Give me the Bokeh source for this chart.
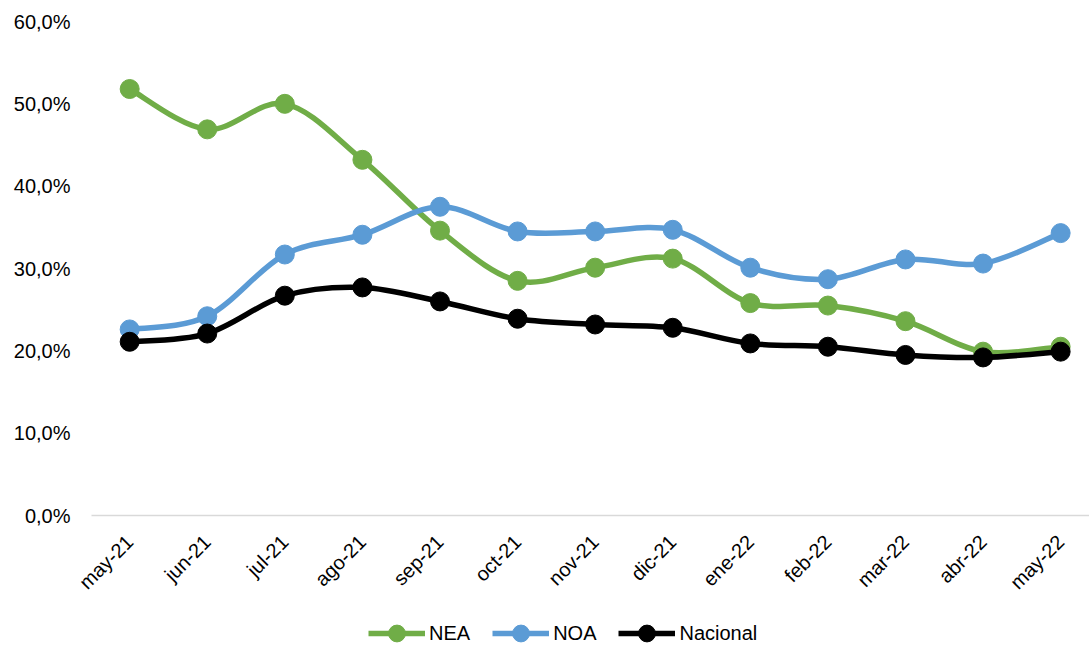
import math
from bokeh.plotting import figure
from bokeh.layouts import column
from bokeh.models import Range1d, FixedTicker, Legend, LegendItem, ColumnDataSource
from bokeh.embed import file_html
from bokeh.resources import INLINE

months = ["may-21", "jun-21", "jul-21", "ago-21", "sep-21", "oct-21", "nov-21",
          "dic-21", "ene-22", "feb-22", "mar-22", "abr-22", "may-22"]
nea = [51.8, 46.9, 50.0, 43.2, 34.6, 28.5, 30.1, 31.2, 25.8, 25.5, 23.6, 19.9, 20.5]
noa = [22.6, 24.2, 31.7, 34.1, 37.5, 34.5, 34.5, 34.7, 30.1, 28.7, 31.1, 30.6, 34.3]
nacional = [21.1, 22.1, 26.7, 27.7, 26.0, 23.9, 23.2, 22.8, 20.9, 20.5, 19.5, 19.2, 19.9]
y_ticks = [0, 10, 20, 30, 40, 50, 60]
y_labels = ["0,0%", "10,0%", "20,0%", "30,0%", "40,0%", "50,0%", "60,0%"]

series = [("NEA", nea, "#70AD47"), ("NOA", noa, "#5B9BD5"), ("Nacional", nacional, "#000000")]

FONT = "Liberation Sans"

p = figure(width=1089, height=610, output_backend="svg", toolbar_location=None,
           x_range=Range1d(-0.492, 12.372), y_range=Range1d(0, 60),
           min_border_left=91, min_border_right=0, min_border_top=21, min_border_bottom=95)
p.outline_line_color = None
p.xgrid.grid_line_color = None
p.ygrid.grid_line_color = None
p.background_fill_color = "white"
p.border_fill_color = "white"

xs = list(range(len(months)))

# axes
p.xaxis.ticker = FixedTicker(ticks=xs)
p.xaxis.major_label_overrides = {i: m for i, m in enumerate(months)}
p.xaxis.major_label_orientation = math.pi / 4
p.xaxis.axis_line_color = "#D9D9D9"
p.xaxis.axis_line_width = 1.5
p.xaxis.major_tick_line_color = None
p.xaxis.minor_tick_line_color = None
p.xaxis.major_tick_out = 0
p.xaxis.minor_tick_out = 0
p.xaxis.major_label_standoff = 23
p.xaxis.major_label_text_font = FONT
p.xaxis.major_label_text_font_size = "20px"
p.xaxis.major_label_text_color = "#000000"

p.yaxis.ticker = FixedTicker(ticks=y_ticks)
p.yaxis.major_label_overrides = {t: l for t, l in zip(y_ticks, y_labels)}
p.yaxis.axis_line_color = None
p.yaxis.major_tick_line_color = None
p.yaxis.minor_tick_line_color = None
p.yaxis.major_tick_out = 0
p.yaxis.minor_tick_out = 0
p.yaxis.major_label_standoff = 21
p.yaxis.major_label_text_font = FONT
p.yaxis.major_label_text_font_size = "20px"
p.yaxis.major_label_text_color = "#000000"

# legend strip
lg = figure(width=1089, height=36, output_backend="svg", toolbar_location=None,
            x_range=Range1d(0, 1), y_range=Range1d(0, 1), x_axis_type=None, y_axis_type=None,
            min_border_left=0, min_border_right=0, min_border_top=0, min_border_bottom=0)
lg.outline_line_color = None
lg.xgrid.grid_line_color = None
lg.ygrid.grid_line_color = None
lg.border_fill_color = "white"
lg.background_fill_color = "white"

items = []
for name, vals, color in series:
    n = len(vals)
    x0 = []; y0 = []; x1 = []; y1 = []; cx0 = []; cy0 = []; cx1 = []; cy1 = []
    for i in range(n - 1):
        pa = (xs[i - 1], vals[i - 1]) if i > 0 else (xs[i], vals[i])
        pb = (xs[i], vals[i])
        pc = (xs[i + 1], vals[i + 1])
        pd = (xs[i + 2], vals[i + 2]) if i + 2 < n else (xs[i + 1], vals[i + 1])
        x0.append(pb[0]); y0.append(pb[1])
        x1.append(pc[0]); y1.append(pc[1])
        cx0.append(pb[0] + (pc[0] - pa[0]) / 6.0)
        cy0.append(pb[1] + (pc[1] - pa[1]) / 6.0)
        cx1.append(pc[0] - (pd[0] - pb[0]) / 6.0)
        cy1.append(pc[1] - (pd[1] - pb[1]) / 6.0)
    src = ColumnDataSource(dict(x0=x0, y0=y0, x1=x1, y1=y1, cx0=cx0, cy0=cy0, cx1=cx1, cy1=cy1))
    p.bezier(x0="x0", y0="y0", x1="x1", y1="y1", cx0="cx0", cy0="cy0", cx1="cx1", cy1="cy1",
             source=src, line_color=color, line_width=5.5, line_cap="round")
    p.scatter(xs, vals, size=19, marker="circle", fill_color=color, line_color=color)
    # legend proxies (kept outside the visible range of the legend strip)
    lline = lg.line([-10, -9], [-10, -10], line_color=color, line_width=5.5)
    lmark = lg.scatter([-10], [-10], size=19, marker="circle", fill_color=color, line_color=color)
    items.append(LegendItem(label=name, renderers=[lline, lmark]))

legend = Legend(items=items, orientation="horizontal", location=(277, -8),
                glyph_width=57, glyph_height=42, label_standoff=4, spacing=22,
                padding=0, margin=0, border_line_color=None, background_fill_alpha=0,
                label_text_font=FONT, label_text_font_size="20px", label_text_color="#000000")
lg.add_layout(legend, "center")

layout = column(p, lg, spacing=0)
open("out.html", "w").write(file_html(layout, INLINE))
